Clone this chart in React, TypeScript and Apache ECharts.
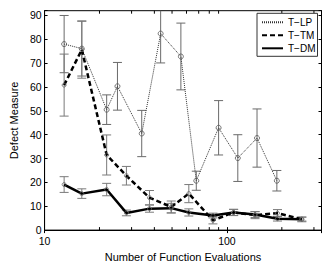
import React, { useEffect, useRef } from "react";
import * as echarts from "echarts";

const lpX = [12.8, 16.0, 21.9, 25.1, 34.1, 43.3, 55.9, 67.9, 90.0, 114.7, 146.2, 187.8];
const lpY = [78.0, 76.1, 50.5, 60.3, 40.5, 82.4, 72.8, 20.7, 42.9, 30.2, 38.6, 20.7];
const lpErr = [12, 11.5, 6.2, 10, 9.7, 12.3, 14, 4, 11.4, 9.8, 12.2, 4.3];

const tmX = [12.8, 16.0, 21.9, 28.1, 37.6, 49.5, 61.8, 83.8, 108.8, 142.6, 189.3, 257.5];
const tmY = [60.8, 75.7, 31.5, 22.8, 13.6, 9.7, 15.3, 4.1, 7.4, 6.3, 7.1, 4.5];
const tmErr = [13, 12, 8.4, 3.9, 3, 2.5, 3.8, 1.5, 1.3, 1.5, 1.5, 1];

const dmX = [12.8, 16.0, 21.9, 28.1, 37.6, 49.5, 61.8, 83.8, 108.8, 142.6, 189.3, 257.5];
const dmY = [19.1, 15.3, 17.0, 7.2, 9.0, 9.2, 7.4, 6.1, 7.4, 6.5, 4.8, 4.6];
const dmErr = [3.3, 2, 2.6, 1.2, 1.5, 2, 1.5, 1, 1.3, 1.2, 1, 0.8];

const seriesNames = ["T\u2212LP", "T\u2212TM", "T\u2212DM"];
const minorTicks = [20, 30, 40, 50, 60, 70, 80, 90, 200, 300];
const xMin = 10;
const xMax = 330;
const yMin = 0;
const yMax = 92;

const FONT = "Liberation Sans, Arial, Helvetica, sans-serif";

function pts(xs: number[], ys: number[]) {
  return xs.map((x, i) => [x, ys[i]]);
}
function errs(xs: number[], ys: number[], es: number[]) {
  return xs.map((x, i) => [x, ys[i] - es[i], ys[i] + es[i]]);
}

function errorSeries(data: number[][], color: string) {
  return {
    type: "custom",
    clip: true,
    silent: true,
    encode: { x: 0, y: [1, 2] },
    data,
    z: 1,
    renderItem: (params: any, api: any) => {
      const x = api.value(0);
      const top = api.coord([x, api.value(2)]);
      const bot = api.coord([x, api.value(1)]);
      const w = 4.5;
      const style = { stroke: color, lineWidth: 1, fill: "none" };
      return {
        type: "group",
        children: [
          { type: "line", shape: { x1: top[0], y1: top[1], x2: bot[0], y2: bot[1] }, style },
          { type: "line", shape: { x1: top[0] - w, y1: top[1], x2: top[0] + w, y2: top[1] }, style },
          { type: "line", shape: { x1: bot[0] - w, y1: bot[1], x2: bot[0] + w, y2: bot[1] }, style },
        ],
      };
    },
  };
}

function markerSeries(data: number[][], size: number, color: string) {
  return {
    type: "scatter",
    data,
    symbol: "circle",
    symbolSize: size,
    z: 5,
    silent: true,
    itemStyle: { color: "rgba(255,255,255,0)", borderColor: color, borderWidth: 1 },
  };
}

export default function App() {
  const ref = useRef<HTMLDivElement>(null);
  useEffect(() => {
    if (!ref.current) return;
    const chart = echarts.init(ref.current, undefined, { renderer: "svg" });
    const axisCommon = {
      axisLine: { show: true, lineStyle: { color: "#000", width: 1 } },
      splitLine: { show: false },
    };
    chart.setOption({
      animation: false,
      backgroundColor: "#fff",
      grid: {
        left: 33,
        right: 5.5,
        top: 10.7,
        bottom: 28.5,
        show: true,
        borderColor: "#000",
        borderWidth: 1,
        backgroundColor: "#fff",
      },
      legend: {
        data: seriesNames,
        orient: "vertical",
        right: 9.5,
        top: 13.3,
        itemWidth: 21,
        itemHeight: 10,
        itemGap: 3,
        padding: [4, 2, 3, 4],
        borderColor: "#333",
        borderWidth: 1,
        borderRadius: 0,
        backgroundColor: "#fff",
        itemStyle: { opacity: 0, color: "transparent", borderWidth: 0 },
        textStyle: { fontSize: 10, fontFamily: FONT, color: "#000" },
      },
      xAxis: [
        {
          type: "log",
          logBase: 10,
          min: xMin,
          max: xMax,
          position: "bottom",
          ...axisCommon,
          axisTick: { show: true, inside: true, length: 3, lineStyle: { color: "#000" } },
          axisLabel: {
            fontSize: 10.5,
            lineHeight: 10,
            fontFamily: FONT,
            color: "#000",
            margin: 5.5,
            showMaxLabel: false,
          },
          name: "Number of Function Evaluations",
          nameLocation: "middle",
          nameGap: 14,
          nameTextStyle: { fontSize: 11, fontFamily: FONT, color: "#000" },
        },
        {
          type: "log",
          logBase: 10,
          min: xMin,
          max: xMax,
          position: "top",
          ...axisCommon,
          axisTick: { show: true, inside: true, length: 3, lineStyle: { color: "#000" } },
          axisLabel: { show: false },
        },
      ],
      yAxis: [
        {
          type: "value",
          min: yMin,
          max: yMax,
          interval: 10,
          position: "left",
          ...axisCommon,
          axisTick: { show: true, inside: true, length: 3, lineStyle: { color: "#000" } },
          axisLabel: {
            fontSize: 10.5,
            lineHeight: 9,
            fontFamily: FONT,
            color: "#000",
            margin: 3,
            formatter: (v: number) => (v % 10 === 0 ? String(v) : ""),
          },
          name: "Defect Measure",
          nameLocation: "middle",
          nameGap: 18,
          nameTextStyle: { fontSize: 11, fontFamily: FONT, color: "#000" },
        },
        {
          type: "value",
          min: yMin,
          max: yMax,
          interval: 10,
          position: "right",
          ...axisCommon,
          axisTick: { show: true, inside: true, length: 3, lineStyle: { color: "#000" } },
          axisLabel: { show: false },
        },
      ],
      series: [
        {
          type: "custom",
          silent: true,
          clip: false,
          data: minorTicks.map((v) => [v]),
          encode: { x: 0 },
          renderItem: (params: any, api: any) => {
            const b = api.coord([api.value(0), yMin]);
            const t = api.coord([api.value(0), yMax]);
            const style = { stroke: "#000", lineWidth: 1 };
            return {
              type: "group",
              children: [
                { type: "line", shape: { x1: b[0], y1: b[1], x2: b[0], y2: b[1] - 3 }, style },
                { type: "line", shape: { x1: t[0], y1: t[1], x2: t[0], y2: t[1] + 3 }, style },
              ],
            };
          },
        },
        errorSeries(errs(lpX, lpY, lpErr), "#6a6a6a"),
        errorSeries(errs(tmX, tmY, tmErr), "#7a7a7a"),
        errorSeries(errs(dmX, dmY, dmErr), "#7a7a7a"),
        {
          name: seriesNames[0],
          type: "line",
          data: pts(lpX, lpY),
          symbol: "none",
          z: 3,
          lineStyle: { color: "#333", width: 1, type: [1, 1] },
          itemStyle: { color: "#333" },
        },
        {
          name: seriesNames[1],
          type: "line",
          data: pts(tmX, tmY),
          symbol: "none",
          z: 3,
          lineStyle: { color: "#000", width: 2.5, type: [5, 3] },
          itemStyle: { color: "#000" },
        },
        {
          name: seriesNames[2],
          type: "line",
          data: pts(dmX, dmY),
          symbol: "none",
          z: 4,
          lineStyle: { color: "#000", width: 2.5, type: "solid" },
          itemStyle: { color: "#000" },
        },
        markerSeries(pts(lpX, lpY), 5, "#555"),
        markerSeries(pts(tmX, tmY), 4, "#666"),
        markerSeries(pts(dmX, dmY), 4, "#666"),
      ],
    });
    return () => chart.dispose();
  }, []);
  return (
    <div
      ref={ref}
      style={{ position: "fixed", left: 0, top: 0, width: 327, height: 267, background: "#fff" }}
    />
  );
}
